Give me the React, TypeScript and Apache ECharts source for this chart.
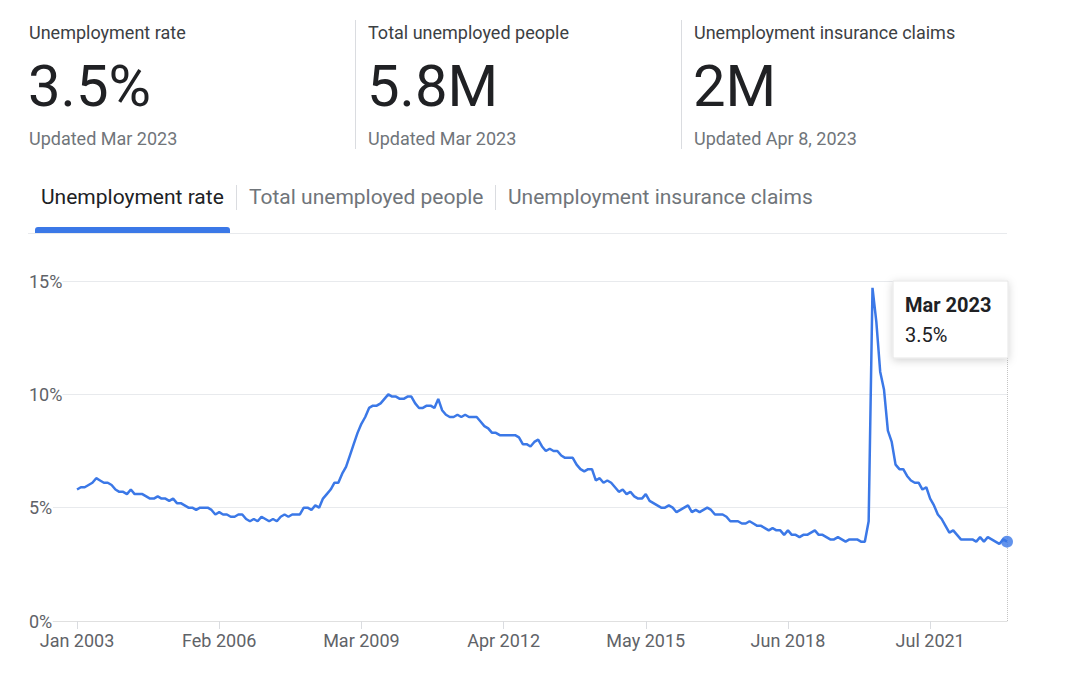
import React, { useEffect, useRef } from "react";
import * as echarts from "echarts";

// Monthly US unemployment rate (%), Jan 2003 – Mar 2023
const rate2003 = [5.8, 5.9, 5.9, 6.0, 6.1, 6.3, 6.2, 6.1, 6.1, 6.0, 5.8, 5.7];
const rate2004 = [5.7, 5.6, 5.8, 5.6, 5.6, 5.6, 5.5, 5.4, 5.4, 5.5, 5.4, 5.4];
const rate2005 = [5.3, 5.4, 5.2, 5.2, 5.1, 5.0, 5.0, 4.9, 5.0, 5.0, 5.0, 4.9];
const rate2006 = [4.7, 4.8, 4.7, 4.7, 4.6, 4.6, 4.7, 4.7, 4.5, 4.4, 4.5, 4.4];
const rate2007 = [4.6, 4.5, 4.4, 4.5, 4.4, 4.6, 4.7, 4.6, 4.7, 4.7, 4.7, 5.0];
const rate2008 = [5.0, 4.9, 5.1, 5.0, 5.4, 5.6, 5.8, 6.1, 6.1, 6.5, 6.8, 7.3];
const rate2009 = [7.8, 8.3, 8.7, 9.0, 9.4, 9.5, 9.5, 9.6, 9.8, 10.0, 9.9, 9.9];
const rate2010 = [9.8, 9.8, 9.9, 9.9, 9.6, 9.4, 9.4, 9.5, 9.5, 9.4, 9.8, 9.3];
const rate2011 = [9.1, 9.0, 9.0, 9.1, 9.0, 9.1, 9.0, 9.0, 9.0, 8.8, 8.6, 8.5];
const rate2012 = [8.3, 8.3, 8.2, 8.2, 8.2, 8.2, 8.2, 8.1, 7.8, 7.8, 7.7, 7.9];
const rate2013 = [8.0, 7.7, 7.5, 7.6, 7.5, 7.5, 7.3, 7.2, 7.2, 7.2, 6.9, 6.7];
const rate2014 = [6.6, 6.7, 6.7, 6.2, 6.3, 6.1, 6.2, 6.1, 5.9, 5.7, 5.8, 5.6];
const rate2015 = [5.7, 5.5, 5.4, 5.4, 5.6, 5.3, 5.2, 5.1, 5.0, 5.0, 5.1, 5.0];
const rate2016 = [4.8, 4.9, 5.0, 5.1, 4.8, 4.9, 4.8, 4.9, 5.0, 4.9, 4.7, 4.7];
const rate2017 = [4.7, 4.6, 4.4, 4.4, 4.4, 4.3, 4.3, 4.4, 4.3, 4.2, 4.2, 4.1];
const rate2018 = [4.0, 4.1, 4.0, 4.0, 3.8, 4.0, 3.8, 3.8, 3.7, 3.8, 3.8, 3.9];
const rate2019 = [4.0, 3.8, 3.8, 3.7, 3.6, 3.6, 3.7, 3.6, 3.5, 3.6, 3.6, 3.6];
const rate2020 = [3.5, 3.5, 4.4, 14.7, 13.2, 11.0, 10.2, 8.4, 7.9, 6.9, 6.7, 6.7];
const rate2021 = [6.4, 6.2, 6.1, 6.1, 5.8, 5.9, 5.4, 5.1, 4.7, 4.5, 4.2, 3.9];
const rate2022 = [4.0, 3.8, 3.6, 3.6, 3.6, 3.6, 3.5, 3.7, 3.5, 3.7, 3.6, 3.5];
const rate2023 = [3.4, 3.6, 3.5];

const unemploymentRate = [
  ...rate2003, ...rate2004, ...rate2005, ...rate2006, ...rate2007,
  ...rate2008, ...rate2009, ...rate2010, ...rate2011, ...rate2012,
  ...rate2013, ...rate2014, ...rate2015, ...rate2016, ...rate2017,
  ...rate2018, ...rate2019, ...rate2020, ...rate2021, ...rate2022,
  ...rate2023,
];

// month index (from Jan 2003) of each labelled x tick
const xTickIndex = [0, 37, 74, 111, 148, 185, 222];
const xTickLabels = ["Jan 2003", "Feb 2006", "Mar 2009", "Apr 2012", "May 2015", "Jun 2018", "Jul 2021"];
const lastMonthLabel = "Mar 2023";

const statTitles = ["Unemployment rate", "Total unemployed people", "Unemployment insurance claims"];
const statValues = ["3.5%", "5.8M", "2M"];
const statUpdated = ["Updated Mar 2023", "Updated Mar 2023", "Updated Apr 8, 2023"];
const tabLabels = ["Unemployment rate", "Total unemployed people", "Unemployment insurance claims"];

const FONT = "Roboto, Arial, sans-serif";
const BLUE = "#3b78e7";

export default function App() {
  const ref = useRef<HTMLDivElement>(null);

  useEffect(() => {
    if (!ref.current) return;
    const chart = echarts.init(ref.current, undefined, { renderer: "svg" });

    const seriesData = unemploymentRate.map((v, i) => [i, v]);
    const lastIdx = unemploymentRate.length - 1;
    const lastVal = unemploymentRate[lastIdx];

    const statX = [29, 368, 694];
    const sepX = [355, 681];
    const tabX = [41, 249, 508];
    const tabSepX = [236, 495];

    const graphics: any[] = [];
    statTitles.forEach((t, i) => {
      graphics.push({
        type: "text", x: statX[i], y: 32, z: 10,
        style: { text: t, font: `18px ${FONT}`, fill: "#3c4043", textAlign: "left", textVerticalAlign: "middle" },
      });
      graphics.push({
        type: "text", x: statX[i] - 1, y: 86, z: 10,
        style: { text: statValues[i], font: `58px ${FONT}`, fill: "#202124", textAlign: "left", textVerticalAlign: "middle" },
      });
      graphics.push({
        type: "text", x: statX[i], y: 138, z: 10,
        style: { text: statUpdated[i], font: `18px ${FONT}`, fill: "#70757a", textAlign: "left", textVerticalAlign: "middle" },
      });
    });
    sepX.forEach((x) => {
      graphics.push({ type: "line", z: 10, shape: { x1: x + 0.5, y1: 20, x2: x + 0.5, y2: 149 }, style: { stroke: "#dadce0", lineWidth: 1 } });
    });
    tabLabels.forEach((t, i) => {
      graphics.push({
        type: "text", x: tabX[i], y: 197, z: 10,
        style: { text: t, font: `21px ${FONT}`, fill: i === 0 ? "#202124" : "#70757a", textAlign: "left", textVerticalAlign: "middle" },
      });
    });
    tabSepX.forEach((x) => {
      graphics.push({ type: "line", z: 10, shape: { x1: x + 0.5, y1: 185, x2: x + 0.5, y2: 210 }, style: { stroke: "#dadce0", lineWidth: 1 } });
    });
    graphics.push({ type: "rect", z: 10, shape: { x: 28, y: 233, width: 979, height: 1 }, style: { fill: "#e8eaed" } });
    graphics.push({ type: "rect", z: 11, shape: { x: 35, y: 227, width: 195, height: 6, r: [3, 3, 0, 0] }, style: { fill: BLUE } });

    // static tooltip for the last point
    graphics.push({
      type: "rect", z: 20, shape: { x: 893, y: 281, width: 115, height: 77 },
      style: { fill: "#ffffff", stroke: "#e6e6e6", lineWidth: 1, shadowBlur: 8, shadowColor: "rgba(0,0,0,0.18)", shadowOffsetY: 2 },
    });
    graphics.push({
      type: "text", x: 905, y: 305, z: 21,
      style: { text: lastMonthLabel, font: `bold 20px ${FONT}`, fill: "#202124", textAlign: "left", textVerticalAlign: "middle" },
    });
    graphics.push({
      type: "text", x: 905, y: 335, z: 21,
      style: { text: `${lastVal}%`, font: `20px ${FONT}`, fill: "#202124", textAlign: "left", textVerticalAlign: "middle" },
    });

    chart.setOption({
      animation: false,
      backgroundColor: "#ffffff",
      textStyle: { fontFamily: FONT },
      grid: { left: 53, right: 75, top: 281, bottom: 55, containLabel: false },
      xAxis: {
        type: "value",
        min: -6.25,
        max: lastIdx,
        axisLine: { show: true, lineStyle: { color: "#e0e0e0", width: 1 } },
        axisTick: { show: true, customValues: xTickIndex, length: 8, lineStyle: { color: "#dadce0" } },
        axisLabel: {
          show: true,
          customValues: xTickIndex,
          formatter: (v: number) => {
            const k = xTickIndex.indexOf(Math.round(v));
            return k >= 0 ? xTickLabels[k] : "";
          },
          color: "#5f6368",
          fontSize: 18,
          fontFamily: FONT,
          margin: 10,
        },
        splitLine: { show: false },
      },
      yAxis: {
        type: "value",
        min: 0,
        max: 15,
        interval: 5,
        axisLine: { show: false },
        axisTick: { show: false },
        axisLabel: {
          formatter: (v: number) => `${v}%`,
          color: "#5f6368",
          fontSize: 18,
          fontFamily: FONT,
          align: "left",
          margin: 24,
          backgroundColor: "#ffffff",
        },
        splitLine: { show: true, lineStyle: { color: "#e8eaed", width: 1 } },
      },
      series: [
        {
          type: "line",
          data: seriesData,
          showSymbol: false,
          symbol: "none",
          lineStyle: { color: BLUE, width: 2.5 },
          itemStyle: { color: BLUE },
          markLine: {
            silent: true,
            symbol: ["none", "none"],
            label: { show: false },
            lineStyle: { type: "dotted", color: "#c4c4c4", width: 1 },
            data: [{ xAxis: lastIdx }],
          },
        },
        {
          type: "scatter",
          data: [[lastIdx, lastVal]],
          symbol: "circle",
          symbolSize: 12,
          itemStyle: { color: BLUE },
          z: 5,
        },
      ],
      graphic: graphics,
    });

    return () => chart.dispose();
  }, []);

  return <div ref={ref} style={{ position: "fixed", left: 0, top: 0, width: 1082, height: 676 }} />;
}
